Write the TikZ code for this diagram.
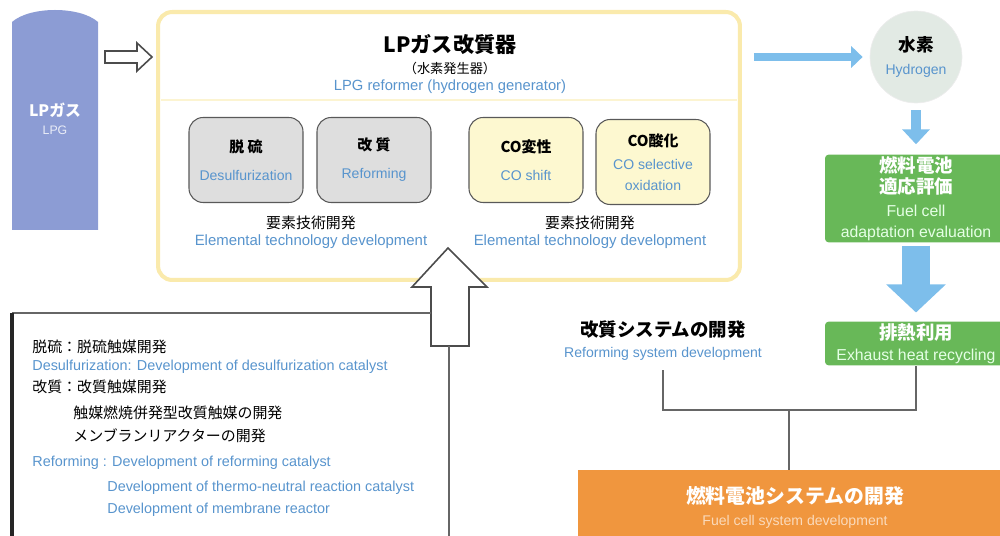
\documentclass[tikz,border=0pt]{standalone}
\usepackage{fontspec}
\setmainfont{Liberation Sans}
\newfontfamily\jp{Noto Sans CJK JP}
\definecolor{lptank}{RGB}{140,156,212}
\definecolor{lptext}{RGB}{88,148,205}
\definecolor{lpyellow}{RGB}{250,234,172}
\definecolor{lpcream}{RGB}{253,248,208}
\definecolor{lpgray}{RGB}{222,222,222}
\definecolor{lpsky}{RGB}{125,190,235}
\definecolor{lpmint}{RGB}{226,234,228}
\definecolor{lpgreen}{RGB}{104,184,88}
\definecolor{lporange}{RGB}{240,150,62}
\usetikzlibrary{arrows.meta}
\newcommand{\jphead}{\jp\bfseries\fontsize{8.5}{10}\selectfont}
\newcommand{\enblue}{\rmfamily\mdseries\color{lptext}\fontsize{8}{10}\selectfont}
\tikzset{
  stagebox/.style={draw=black!65, line width=0.6pt, rounded corners=8pt, minimum width=2.28cm, minimum height=1.7cm, align=center, inner sep=1pt},
  greenbox/.style={fill=lpgreen, rounded corners=2pt, minimum width=3.64cm, align=center, inner sep=1pt},
  hollowarrow/.style={draw=black!70, fill=white, line width=0.9pt},
  joinline/.style={draw=black!60, line width=0.6pt},
  notejp/.style={anchor=west, inner sep=0pt, font=\jp\fontsize{8.5}{10}\selectfont},
  noteen/.style={anchor=west, inner sep=0pt, text=lptext, font=\fontsize{8.2}{10}\selectfont},
  labeljp/.style={inner sep=0pt, font=\jp\fontsize{8.5}{10}\selectfont},
  labelen/.style={inner sep=0pt, text=lptext, font=\fontsize{8.5}{10}\selectfont},
}

\begin{document}
\begin{tikzpicture}[x=0.02cm,y=-0.02cm]
  \useasboundingbox (0,0) rectangle (1000,536);
  \clip (0,0) rectangle (1000,536);

  % LPG tank
  \fill[lptank] (12,230) -- (12,22) .. controls (30,6) and (80,6) .. (98,22) -- (98,230) -- cycle;
  \node[text=white, font=\jp\bfseries\fontsize{9}{10}\selectfont] (lpgjp) at (55,110) {LPガス};
  \node[text=white!82!lptank, font=\fontsize{7}{8}\selectfont] (lpgen) at (55,130) {LPG};
  \draw[hollowarrow] (105,51) -- (137,51) -- (137,43) -- (152,57) -- (137,71) -- (137,63) -- (105,63) -- cycle;

  % Reformer
  \node[draw=lpyellow, line width=2.3pt, fill=white, rounded corners=8pt, minimum width=11.64cm, minimum height=5.36cm] (reformer) at (449,146) {};
  \draw[lpyellow!55, line width=1pt] (161,100) -- (737,100);
  \node[font=\jp\bfseries\fontsize{12}{14}\selectfont] (title) at (450,45) {LPガス改質器};
  \node[font=\jp\fontsize{7.5}{9}\selectfont] (titlesub) at (450,68) {（水素発生器）};
  \node[text=lptext, font=\fontsize{8.4}{10}\selectfont] (titleen) at (450,87) {LPG reformer (hydrogen generator)};

  \node[stagebox, fill=lpgray] (desul) at (246,160) {\jphead 脱 硫\\[4pt]\enblue Desulfurization};
  \node[stagebox, fill=lpgray] (reform) at (374,160) {\jphead 改 質\\[4pt]\enblue Reforming};
  \node[stagebox, fill=lpcream] (coshift) at (526,160) {\jphead CO変性\\[4pt]\enblue CO shift};
  \node[stagebox, fill=lpcream] (coox) at (653,162) {\jphead CO酸化\\[1pt]\enblue CO selective\\\enblue oxidation};

  \node[labeljp] (elemjpL) at (311,223) {要素技術開発};
  \node[labelen] (elemenL) at (311,242) {Elemental technology development};
  \node[labeljp] (elemjpR) at (590,223) {要素技術開発};
  \node[labelen] (elemenR) at (590,242) {Elemental technology development};

  % Hydrogen and fuel cell
  \node[circle, fill=lpmint, draw=black!7, minimum size=1.84cm, inner sep=0pt, align=center] (h2) at (916,57)
    {\jp\bfseries\fontsize{10}{12}\selectfont 水素\\[1pt]\enblue Hydrogen};
  \node[greenbox, minimum height=1.66cm] (fceval) at (916,198.5)
    {\jp\bfseries\color{white}\fontsize{10.5}{11.5}\selectfont 燃料電池\\\jp\bfseries\color{white}\fontsize{10.5}{11.5}\selectfont 適応評価\\[1pt]\rmfamily\mdseries\color{green!10}\fontsize{9}{9.5}\selectfont Fuel cell\\\rmfamily\mdseries\color{green!10}\fontsize{9}{9.5}\selectfont adaptation evaluation};
  \node[greenbox, minimum height=0.86cm] (heat) at (916,343.5)
    {\jp\bfseries\color{white}\fontsize{10.5}{9}\selectfont 排熱利用\\\rmfamily\mdseries\color{green!10}\fontsize{9}{9}\selectfont Exhaust heat recycling};

  \draw[lpsky, line width=5pt, -{Triangle[width=12pt,length=6.5pt]}, shorten <=6.8pt, shorten >=4pt] (reformer.east |- h2.west) -- (h2.west);
  \draw[lpsky, line width=6.2pt, -{Triangle[width=15.3pt,length=8.5pt]}, shorten <=4pt, shorten >=5.7pt] (h2.south) -- (fceval.north);
  \draw[lpsky, line width=16.4pt, -{Triangle[width=33pt,length=16pt]}, shorten <=1.7pt, shorten >=5pt] (fceval.south) -- (heat.north);

  % Systems
  \node[align=center, inner sep=1pt] (refsys) at (663,341)
    {\jp\bfseries\fontsize{10.5}{11}\selectfont 改質システムの開発\\\enblue Reforming system development};
  \node[fill=lporange, minimum width=8.7cm, minimum height=1.5cm, align=center] (fcsys) at (795,507.5)
    {\jp\bfseries\color{white}\fontsize{11.3}{13}\selectfont 燃料電池システムの開発\\[1pt]\rmfamily\mdseries\color{lporange!35}\fontsize{8}{9}\selectfont Fuel cell system development};
  \coordinate (split) at (789,410);
  \draw[joinline, shorten <=4pt] (refsys.south) |- (split) -| (heat.south);
  \draw[joinline] (split) -- (split |- fcsys.north);

  % Catalyst notes
  \draw[hollowarrow] (431,346) -- (431,287) -- (412,287) -- (448,248) -- (487,287) -- (469,287) -- (469,346) -- cycle;
  \coordinate (upfoot) at (449,346);
  \coordinate (noteleft) at (12,313);
  \draw[joinline] (431,313) -- (noteleft);
  \draw[black!85, line width=1.8pt] (noteleft) -- (12,536);
  \draw[joinline] (upfoot) -- (449,536);

  \node[notejp] (n1) at (32,347) {脱硫：脱硫触媒開発};
  \node[noteen] (n2) at (32,367) {Desulfurization: Development of desulfurization catalyst};
  \node[notejp] (n3) at (32,387) {改質：改質触媒開発};
  \node[notejp] (n4) at (73,413) {触媒燃焼併発型改質触媒の開発};
  \node[notejp] (n5) at (73,436) {メンブランリアクターの開発};
  \node[noteen] (n6) at (32,463) {Reforming : Development of reforming catalyst};
  \node[noteen] (n7) at (107,488) {Development of thermo-neutral reaction catalyst};
  \node[noteen] (n8) at (107,510) {Development of membrane reactor};
\end{tikzpicture}
\end{document}
